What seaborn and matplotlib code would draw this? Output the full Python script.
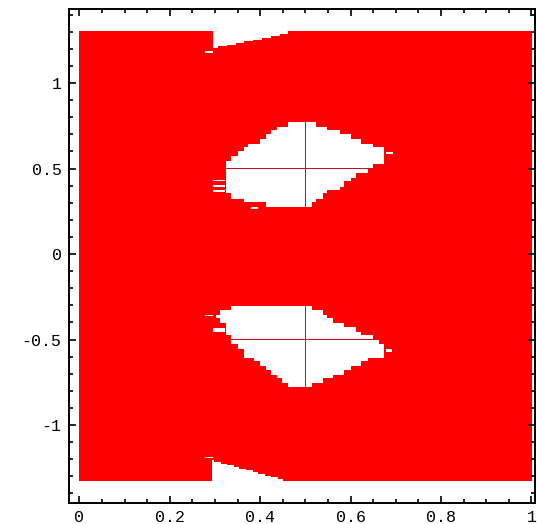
import numpy as np
import pandas as pd
import matplotlib
matplotlib.use("Agg")
import matplotlib.pyplot as plt
from matplotlib.colors import ListedColormap
from matplotlib.path import Path
import seaborn as sns

# white holes in the red region (corners)
upper_hole_x = [0.479, 0.520, 0.564, 0.620, 0.660, 0.679, 0.679, 0.638, 0.601, 0.568,
                0.534, 0.501, 0.468, 0.416, 0.364, 0.331, 0.320, 0.320, 0.360, 0.401, 0.438]
upper_hole_y = [0.774, 0.768, 0.721, 0.667, 0.628, 0.598, 0.550, 0.495, 0.443, 0.384,
                0.331, 0.273, 0.271, 0.287, 0.306, 0.345, 0.374, 0.540, 0.608, 0.667, 0.735]

lower_hole_x = [0.320, 0.394, 0.501, 0.520, 0.542, 0.579, 0.623, 0.657, 0.679, 0.679,
                0.652, 0.616, 0.579, 0.542, 0.501, 0.479, 0.460, 0.442, 0.420, 0.400,
                0.380, 0.360, 0.338, 0.334, 0.320, 0.320, 0.297, 0.297, 0.320]
lower_hole_y = [-0.318, -0.298, -0.292, -0.318, -0.347, -0.405, -0.454, -0.503, -0.552, -0.581,
                -0.600, -0.649, -0.698, -0.733, -0.776, -0.776, -0.756, -0.727, -0.688, -0.649,
                -0.610, -0.571, -0.513, -0.480, -0.430, -0.390, -0.385, -0.345, -0.335]

top_notch_x = [0.297, 0.462, 0.462, 0.297]
top_notch_y = [1.35, 1.35, 1.29, 1.205]
bottom_notch_x = [0.295, 0.459, 0.459, 0.295]
bottom_notch_y = [-1.35, -1.35, -1.325, -1.207]

# thin white streaks next to the holes
streak_y = [1.18, 0.43, 0.40, 0.37, 0.59, 0.27, -0.36, -0.44, -0.45, -0.56, -0.57, -1.19]
streak_x0 = [0.279, 0.297, 0.297, 0.297, 0.679, 0.379, 0.279, 0.297, 0.297, 0.679, 0.679, 0.280]
streak_x1 = [0.297, 0.320, 0.320, 0.320, 0.693, 0.397, 0.297, 0.320, 0.320, 0.690, 0.690, 0.295]

# sample lines that stay red through the holes
cross_x = [0.5]
cross_y = [0.5, -0.5]

x_ticks = [0, 0.2, 0.4, 0.6, 0.8, 1]
x_tick_labels = ["0", "0.2", "0.4", "0.6", "0.8", "1"]
y_ticks = [-1, -0.5, 0, 0.5, 1]
y_tick_labels = ["-1", "-0.5", "0", "0.5", "1"]

# sampling grid
dx, dy = 0.0025, 0.01
y_top = 1.30
xc = np.round(np.arange(401) * dx, 4)
yc = np.round(y_top - np.arange(263) * dy, 2)
X, Y = np.meshgrid(xc, yc)

# evaluate on a coarser lattice to get the stepped edges
Xs = np.floor(X / 0.0125) * 0.0125 + 0.00625
Ys = np.floor(Y / 0.025) * 0.025 + 0.0125
pts = np.column_stack([Xs.ravel(), Ys.ravel()])

white = np.zeros(X.shape, dtype=bool)
for hx, hy in [(upper_hole_x, upper_hole_y), (lower_hole_x, lower_hole_y)]:
    white |= Path(np.column_stack([hx, hy])).contains_points(pts).reshape(X.shape)
fine = np.column_stack([X.ravel(), Y.ravel()])
for hx, hy in [(top_notch_x, top_notch_y), (bottom_notch_x, bottom_notch_y)]:
    white |= Path(np.column_stack([hx, hy])).contains_points(fine).reshape(X.shape)
for sy, a, b in zip(streak_y, streak_x0, streak_x1):
    white |= (np.abs(Y - sy) < dy / 2) & (X >= a) & (X <= b)

line = np.zeros(X.shape, dtype=bool)
for cx in cross_x:
    line |= np.abs(X - cx) < dx / 2
for cy in cross_y:
    line |= np.abs(Y - cy) < dy / 2

# 0 = white, 1 = red, 2 = red sample line crossing a hole
cells = np.where(white, 0, 1)
cells[white & line] = 2
region = pd.DataFrame(cells, index=yc, columns=xc)


def x_idx(v):
    return np.asarray(v, dtype=float) / dx + 0.5


def y_idx(v):
    return (y_top - np.asarray(v, dtype=float)) / dy + 0.5


fig = plt.figure(figsize=(5.37, 5.24), dpi=100)
ax = fig.add_axes([0.1276, 0.040, 0.8687, 0.9427])
sns.heatmap(region, cmap=ListedColormap(["white", "#ff0000", "#c8101a"]), vmin=0, vmax=2,
            cbar=False, xticklabels=False, yticklabels=False, linewidths=0, ax=ax)

ax.set_xlim(x_idx(-0.024), x_idx(1.008))
ax.set_ylim(y_idx(-1.456), y_idx(1.433))
for s in ax.spines.values():
    s.set_visible(True)
    s.set_color("black")
    s.set_linewidth(1.4)

ax.set_xticks(x_idx(x_ticks))
ax.set_xticklabels(x_tick_labels, rotation=0)
ax.set_yticks(y_idx(y_ticks))
ax.set_yticklabels(y_tick_labels, rotation=0)
ax.set_xticks(x_idx(np.round(np.arange(0, 1.01, 0.05), 2)), minor=True)
ax.set_yticks(y_idx(np.round(np.arange(-1.4, 1.41, 0.1), 1)), minor=True)
ax.tick_params(which="both", direction="in", top=True, right=True, color="black", width=1.2)
ax.tick_params(which="major", length=5, labelsize=12, pad=5)
ax.tick_params(which="minor", length=3)
for lab in ax.get_xticklabels() + ax.get_yticklabels():
    lab.set_family("Liberation Mono")
    lab.set_color("black")
ax.set_xlabel("")
ax.set_ylabel("")

fig.savefig("out.png", dpi=100)
